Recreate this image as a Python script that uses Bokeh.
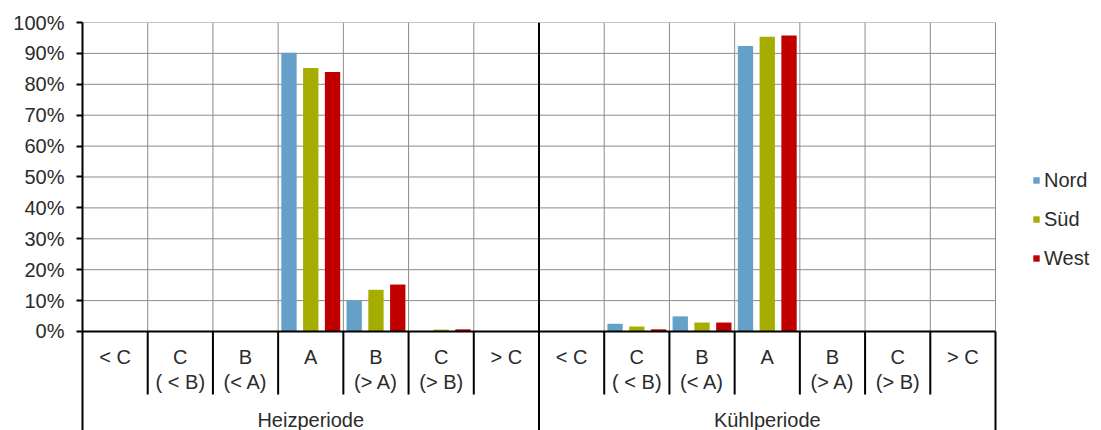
from bokeh.plotting import figure
from bokeh.models import Range1d, FixedTicker, PrintfTickFormatter, ColumnDataSource, Legend, LegendItem
from bokeh.transform import dodge
from bokeh.core.properties import value
from bokeh.embed import file_html
from bokeh.resources import INLINE

# ---- data ----
groups = ["Heizperiode", "Kühlperiode"]
cat_line1 = ["< C", "C", "B", "A", "B", "C", "> C"]
cat_line2 = ["", "( < B)", "(< A)", "", "(> A)", "(> B)", ""]
series = ["Nord", "Süd", "West"]
nord = [0, 0, 0, 90.2, 10.0, 0.0, 0, 0, 2.5, 4.9, 92.4, 0, 0, 0]
sued = [0, 0, 0, 85.3, 13.5, 0.6, 0, 0, 1.6, 2.9, 95.4, 0, 0, 0]
west = [0, 0, 0, 84.0, 15.2, 0.7, 0, 0, 0.7, 2.9, 95.8, 0, 0, 0]
y_ticks = [0, 10, 20, 30, 40, 50, 60, 70, 80, 90, 100]

colors = ["#64A0C8", "#A5AE00", "#C00000"]
FONT = "Liberation Sans"
TXT = "#2b2b2b"
FS = "20px"

ncat = len(cat_line1)
n = ncat * len(groups)
xs = [i + 0.5 for i in range(n)]
src = ColumnDataSource(dict(x=xs, nord=nord, sued=sued, west=west))

# layout (pixels)
W, H = 1100, 430
LEFT, TOP = 82, 22
PLOT_W = 913          # width of the category area
frame_w = W - LEFT
xmax = n * frame_w / PLOT_W
ymin = -32.04

p = figure(width=W, height=H, output_backend="svg", toolbar_location=None,
           x_range=Range1d(0, xmax), y_range=Range1d(ymin, 100), x_axis_type=None,
           min_border_left=LEFT, min_border_right=0, min_border_top=TOP, min_border_bottom=0)
p.outline_line_color = None
p.grid.visible = False
p.background_fill_color = "white"

ax = p.yaxis[0]
ax.ticker = FixedTicker(ticks=y_ticks)
ax.formatter = PrintfTickFormatter(format="%d%%")
ax.major_label_text_font = FONT
ax.major_label_text_font_size = FS
ax.major_label_text_color = TXT
ax.axis_line_width = 2
ax.axis_line_color = "black"
ax.major_tick_line_width = 2
ax.major_tick_line_color = "black"
ax.major_tick_out = 6
ax.major_tick_in = 0
ax.minor_tick_line_color = None
ax.major_label_standoff = 12

GRID = "#8c8c8c"
# horizontal grid
hy = [t for t in y_ticks if t > 0]
p.segment(x0=[0] * len(hy), x1=[n] * len(hy), y0=hy, y1=hy, line_color=GRID, line_width=1)
# vertical grid above the axis
vx = [i for i in range(1, n + 1) if i != ncat]
p.segment(x0=vx, x1=vx, y0=[0] * len(vx), y1=[100] * len(vx), line_color=GRID, line_width=1)

# bars
w = 0.235
r1 = p.vbar(x=dodge("x", -0.334, range=p.x_range), top="nord", width=w, source=src, fill_color=colors[0], line_color=None)
r2 = p.vbar(x=dodge("x", 0.0, range=p.x_range), top="sued", width=w, source=src, fill_color=colors[1], line_color=None)
r3 = p.vbar(x=dodge("x", 0.334, range=p.x_range), top="west", width=w, source=src, fill_color=colors[2], line_color=None)

# black structural lines
p.segment(x0=[0], x1=[n], y0=[0], y1=[0], line_color="black", line_width=2)
cell_bottom = -20.4
sx = [i for i in range(1, n) if i != ncat]
p.segment(x0=sx, x1=sx, y0=[cell_bottom] * len(sx), y1=[0] * len(sx), line_color="black", line_width=2)
p.segment(x0=[ncat], x1=[ncat], y0=[ymin], y1=[100], line_color="black", line_width=2)
p.segment(x0=[n], x1=[n], y0=[ymin], y1=[0], line_color="black", line_width=2)

# category labels
l1 = cat_line1 * len(groups)
l2 = cat_line2 * len(groups)
p.text(x=xs, y=[-8.3] * n, text=l1, text_align="center", text_baseline="middle",
       text_font=value(FONT), text_font_size=FS, text_color=TXT)
p.text(x=xs, y=[-16.4] * n, text=l2, text_align="center", text_baseline="middle",
       text_font=value(FONT), text_font_size=FS, text_color=TXT)
gx = [ncat * g + ncat / 2 for g in range(len(groups))]
p.text(x=gx, y=[-28.5] * len(groups), text=groups, text_align="center", text_baseline="middle",
       text_font=value(FONT), text_font_size=FS, text_color=TXT)

legend = Legend(items=[LegendItem(label=series[0], renderers=[r1]),
                       LegendItem(label=series[1], renderers=[r2]),
                       LegendItem(label=series[2], renderers=[r3])],
                location=(950, 160), orientation="vertical",
                glyph_width=8, glyph_height=8, label_standoff=4,
                label_text_font=FONT, label_text_font_size=FS, label_text_color=TXT,
                border_line_color=None, background_fill_alpha=0,
                padding=0, margin=0, spacing=15, label_height=24)
p.add_layout(legend, "center")

open("out.html", "w").write(file_html(p, INLINE))
